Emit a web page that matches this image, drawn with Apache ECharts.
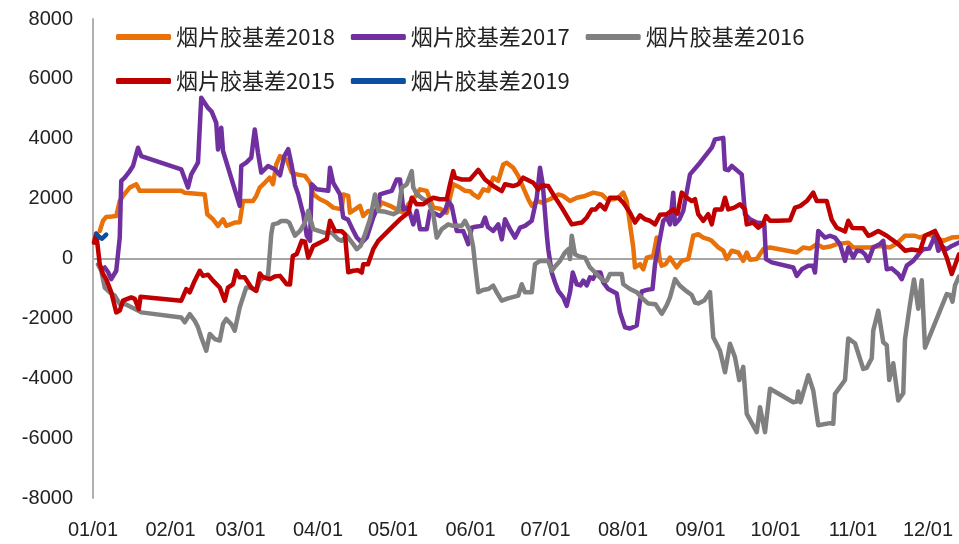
<!DOCTYPE html>
<html>
<head>
<meta charset="utf-8">
<script src="https://cdn.jsdelivr.net/npm/echarts@6/dist/echarts.min.js"></script>
<style>
html,body{margin:0;padding:0;background:#fff;}
#chart{width:959px;height:544px;}
</style>
</head>
<body>
<div id="chart"></div>
<script>
// x = day of year (0 = 01/01), y = basis value
const seriesNames = ['烟片胶基差2018','烟片胶基差2017','烟片胶基差2016','烟片胶基差2015','烟片胶基差2019'];
const monthStarts = [0,31,59,90,120,151,181,212,243,273,304,334];
const monthLabels = ['01/01','02/01','03/01','04/01','05/01','06/01','07/01','08/01','09/01','10/01','11/01','12/01'];
const yTicks = [-8000,-6000,-4000,-2000,0,2000,4000,6000,8000];

const s2018 = [[2.7,920],[4,1260],[5.3,1390],[7.5,1400],[9.3,1420],[10.7,1920],[12,2090],[14.7,2370],[17.3,2480],[18.7,2260],[35.3,2260],[36.7,2200],[44.7,2140],[45.7,1480],[48,1310],[50,1090],[52,1310],[53.3,1090],[56.7,1200],[58.7,1210],[60,1920],[64,1920],[65.3,2090],[66.7,2370],[68.7,2530],[70.7,2700],[72,2480],[73.3,3140],[74.8,3420],[77.5,3300],[79.5,2870],[81.5,2810],[84.8,2760],[86.8,2530],[88.1,2140],[90.8,1980],[93.5,1870],[96.1,1700],[99.5,1640],[100.1,2140],[102.1,2090],[102.8,1530],[104.8,1640],[106.8,1760],[108.1,1420],[110.1,1590],[113.5,1590],[115.5,1870],[118.8,1760],[122.1,1610],[124.1,1530],[126.1,1810],[128.1,1980],[130.8,2310],[133.5,2260],[136.1,1700],[138.8,1660],[141.5,1530],[142.8,2030],[144.1,2480],[146.8,2370],[148.8,2260],[150.8,2250],[152.1,2140],[154.1,2030],[156.1,2310],[158.1,2260],[160.1,2700],[162.1,2590],[164.1,3140],[165.5,3200],[168.1,3030],[170.1,2760],[172.1,2370],[174.1,1980],[175.5,1760],[177.5,1920],[179.5,1870],[182.8,1980],[186.1,2140],[188,2090],[190.8,1920],[193.5,2030],[196.8,2090],[200.1,2200],[203.5,2140],[205.5,1980],[208.1,1980],[210.1,2030],[212.1,2200],[213.5,1920],[214.8,1140],[216.1,370],[216.8,-300],[218.8,-190],[220.1,-360],[221.5,30],[224.1,90],[225.5,700],[226.8,-80],[227.5,-240],[229,-190],[230.8,30],[232.1,-130],[233.5,-300],[235.5,-80],[238.1,-20],[240.1,760],[242.1,810],[244.1,700],[246.1,650],[247.5,590],[250.1,370],[252.1,260],[253.5,-20],[255.5,260],[258.1,200],[260.1,-80],[261.5,200],[262.8,-40],[265.5,-20],[268.1,310],[270.8,370],[281.5,200],[284.1,370],[286.8,330],[289.5,480],[292.1,360],[294.8,400],[297.5,480],[302.1,530],[304,370],[310.8,370],[314.8,420],[318.8,370],[321.5,500],[324.8,760],[328.8,760],[330.8,700],[334.1,810],[336.8,700],[340.1,590],[343.5,700],[346.4,720]];

const s2017 = [[4.7,-300],[6,-450],[7.3,-690],[9.3,-410],[10.7,700],[11.3,2590],[12.7,2700],[14.7,2920],[16,3090],[18,3700],[19.3,3420],[35.3,2980],[38,2370],[39.3,2810],[42,3200],[43.3,5370],[46,5030],[47.5,4900],[49.3,4530],[50,3640],[51.3,4370],[52,3590],[58.7,1760],[59.3,3090],[61.3,3200],[63.3,3370],[64.7,4310],[66,3530],[67.3,2870],[70,3090],[72.7,2980],[74.8,2780],[76.5,3420],[78.1,3650],[79.5,3100],[80.8,2450],[82.1,2140],[84.1,1480],[85.5,760],[86.8,590],[87.5,2480],[89.5,2310],[94.1,2260],[94.8,3030],[96.1,2530],[98.8,2140],[100.1,1370],[102,1300],[103.5,1030],[105.5,700],[107.5,530],[109.5,700],[110.8,1030],[112.1,1370],[114.1,1760],[114.8,2140],[117,2200],[119.5,2260],[121.5,2640],[122.8,2640],[124.1,1640],[126.1,1700],[128.1,1140],[129.5,1590],[130.8,980],[133.5,980],[134.8,1590],[136.8,1500],[138.8,1420],[140.8,1590],[142.1,1920],[143.5,1750],[145.5,920],[148.1,920],[150.1,480],[151.5,1030],[153,1060],[155.5,1090],[156.8,1370],[158,1050],[160.1,920],[162.1,1140],[163.5,640],[164.8,1310],[166.8,980],[168.8,700],[170.8,1030],[172.8,1090],[175.5,1260],[177.5,2030],[178.8,3030],[179.9,2480],[181.5,810],[182.1,310],[183.5,-470],[184.8,-800],[186.1,-1080],[188.1,-1300],[189.5,-1580],[190.8,-1130],[191.9,-470],[193.5,-860],[195,-900],[196.1,-740],[197.5,-900],[198.8,-630],[200,-680],[201.5,-470],[203,-470],[204.1,-800],[206.1,-1020],[209.5,-1170],[210.8,-1800],[212.8,-2300],[214.8,-2340],[217.5,-2240],[218.8,-1410],[219.5,-1100],[222,-1040],[223.8,-1020],[224.8,-190],[226.1,370],[228.1,1260],[229.5,1370],[230.8,1140],[232.1,2200],[232.8,1140],[234.5,1300],[236.1,1590],[238.8,2810],[242.8,3200],[247.5,3700],[248.8,3980],[252.1,4030],[252.8,2980],[254.1,2950],[255.5,3090],[259.5,2810],[260.8,1480],[262.8,1310],[265.5,1200],[268.5,1170],[269.2,-20],[271.5,-130],[280.1,-300],[281.5,-580],[283.5,-360],[286.1,-240],[288,-240],[288.8,-470],[290.1,920],[292.8,700],[294.8,760],[296.8,700],[298.8,480],[300.8,-80],[302.1,370],[304.1,30],[305.5,260],[307.5,240],[308.8,140],[310.1,-80],[312.1,370],[314.8,480],[316.1,590],[317.5,-360],[319.5,-330],[322.1,-520],[323.5,-690],[325.5,-240],[328.1,-80],[330.8,200],[332.1,310],[334.5,330],[336.8,760],[338.1,260],[339.5,400],[341.5,310],[343.5,420],[346.4,530]];

const s2016 = [[2,-200],[3.3,-410],[4.7,-970],[6.7,-1130],[8.7,-1240],[10.7,-1520],[13,-1530],[18,-1740],[19.3,-1800],[35.3,-1970],[36.7,-2130],[38.7,-1860],[40.7,-2080],[42,-2300],[43.3,-2630],[45.3,-3080],[46.7,-2520],[48.7,-2690],[50.7,-2740],[52,-2190],[53.3,-2020],[55.3,-2190],[56.7,-2410],[58.7,-1630],[60,-1300],[61.3,-970],[63.3,-970],[65.3,-1080],[66.7,-740],[68,-650],[70,-580],[71.3,810],[72,1140],[74,1180],[75.3,1255],[77.5,1250],[78.5,1200],[80.8,760],[82.8,920],[84.8,1200],[86.1,1590],[88.1,980],[92.1,870],[95.5,860],[98.1,640],[99.5,590],[101.5,760],[104.1,480],[105.5,310],[107,420],[108.8,810],[110.8,1310],[112.8,2140],[114.1,1590],[117,1560],[120.1,1480],[122,1560],[123.5,2370],[125.5,2480],[127.5,2920],[128.1,2370],[129.5,2150],[132.1,1980],[134.1,1920],[136.1,1480],[137.5,700],[139.5,980],[142.1,1140],[144,1090],[147.5,1090],[148.8,1260],[150.8,920],[152.1,370],[152.8,-190],[154.1,-1130],[156,-1050],[158.1,-1020],[160.1,-910],[161.5,-1130],[163.5,-1410],[166,-1330],[170.1,-1240],[171.5,-860],[172.8,-1130],[175.5,-1130],[176.8,-190],[178.8,-80],[182.1,-80],[183.5,-410],[185,-250],[186.8,-80],[188.8,200],[190.1,310],[190.8,-20],[191.5,760],[192.8,140],[194.5,70],[196.8,30],[198.8,-300],[201.5,-520],[204.1,-740],[205.5,-740],[206.8,-520],[211.5,-520],[212.1,-860],[214.8,-1020],[217.5,-1130],[220.1,-1360],[222.1,-1500],[225,-1530],[227.5,-1850],[229.5,-1560],[230.8,-1300],[232.8,-690],[234.8,-910],[237.5,-1100],[239.5,-1220],[240.8,-1470],[242.1,-1500],[244.5,-1400],[246.8,-1120],[248.1,-2630],[250.8,-3080],[252.8,-3800],[253.5,-3780],[254.8,-2850],[256.8,-3300],[258.5,-4060],[260.1,-3620],[261.5,-5190],[265.5,-5800],[266.8,-4970],[268.8,-5800],[270.8,-4350],[280.1,-4800],[281.5,-4780],[282.1,-4440],[283,-4800],[286.1,-3900],[288.1,-4410],[290.1,-5570],[294.8,-5500],[296.1,-5520],[296.8,-4520],[300.8,-4060],[302.1,-2670],[304.8,-2830],[308.1,-3690],[309.5,-3650],[311.5,-3330],[312.1,-2410],[314.1,-1740],[316.1,-2800],[317.5,-2900],[318.5,-4060],[320.1,-3500],[322.1,-4740],[324.1,-4500],[324.8,-2700],[326.8,-1530],[328.4,-700],[330.1,-1680],[331.5,-730],[332.8,-2980],[341.5,-1190],[342.8,-1220],[343.8,-1440],[344.8,-900],[346.4,-600]];

const s2015 = [[0.4,530],[1.3,830],[2.7,-190],[4,-520],[5.3,-690],[7.3,-1130],[9.3,-1800],[10.7,-1740],[12,-1410],[15.3,-1300],[16.7,-1350],[18.3,-1690],[19,-1280],[35.3,-1410],[37.3,-1020],[38.7,-1130],[40.7,-740],[42.7,-410],[44,-580],[46,-540],[48,-740],[50.7,-970],[52.7,-1410],[54,-970],[56,-860],[57.3,-410],[58.7,-630],[60.7,-630],[63.3,-970],[65.3,-1080],[66.7,-500],[68,-630],[70.7,-690],[72.7,-600],[74.8,-580],[77.5,-860],[78.8,-870],[79.9,80],[81.5,150],[83.5,590],[84.8,560],[86.1,30],[88.1,420],[90.8,530],[93.5,650],[94.8,1260],[96.8,920],[99.5,910],[100.8,810],[102.1,-460],[104.1,-410],[106,-390],[107.5,-470],[108.1,-190],[110,-190],[112.1,310],[114.1,590],[118.8,980],[122.8,1310],[126.1,1530],[127.5,2030],[129.5,1810],[132.1,1810],[133.5,1900],[136.1,2030],[138.8,1980],[141.5,1980],[142.8,2480],[144.1,2920],[144.8,2700],[147.5,2640],[150.8,2640],[154.1,2960],[156.8,2640],[160.1,2420],[163.5,2250],[164.8,2480],[168,2420],[170.1,2480],[172.1,2700],[174.5,2600],[176.1,2530],[178.1,2310],[179.5,2440],[182.1,2420],[184.1,2140],[187.5,1700],[191.5,1140],[195.5,1200],[197.5,1370],[199.5,1640],[201,1640],[202.8,1810],[204.8,1640],[206.8,2030],[210.1,2030],[212.1,1870],[214.8,1530],[216.8,1200],[218.8,1440],[220.8,1310],[222.5,1270],[224.8,1140],[226.8,1460],[229.5,1480],[232.1,1640],[233.8,1500],[235.5,2200],[237.5,2030],[239.5,1920],[240.8,1980],[242.1,1480],[244.1,1260],[246.1,1480],[247.5,1140],[248.8,1640],[251.5,1640],[252.8,2030],[254.1,1640],[256.5,1700],[258.8,1810],[260.8,1640],[261.5,1140],[264.1,1200],[266.1,1030],[268,1150],[269.2,1420],[270.8,1260],[274,1260],[278.8,1280],[280.8,1700],[282.8,1750],[285.5,1920],[288.1,2200],[289.5,1920],[293.5,1920],[295.5,1290],[297.5,1030],[300.8,900],[302.1,1260],[303.7,1020],[308.1,1010],[310.1,760],[311.5,800],[314.1,920],[317.5,760],[322.1,480],[324.8,260],[327.5,300],[330.8,260],[332.8,760],[336.8,920],[338.8,590],[341.5,30],[343.5,-520],[346.4,140]];

const s2019 = [[1.3,820],[2.5,720],[3.5,660],[4.5,730],[5.3,800]];

const seriesData = [s2018, s2017, s2016, s2015, s2019];
const colors = ['#E8710A','#7030A0','#808080','#C00000','#0B4EA2'];

const chart = echarts.init(document.getElementById('chart'), null, {renderer:'canvas'});
const labelFont = 'Liberation Sans, Arial, sans-serif';
const legendCommon = {
  left: 111,
  orient: 'horizontal',
  icon: 'roundRect',
  itemWidth: 55,
  itemHeight: 6,
  itemGap: 16,
  textStyle: {fontSize: 22, color: '#222', fontFamily: 'Noto Sans CJK SC'}
};
// only the zero line is visible among the split lines
const splitColors = yTicks.map(function (t) { return t === 0 ? '#A6A6A6' : 'rgba(0,0,0,0)'; });
chart.setOption({
  animation: false,
  backgroundColor: '#fff',
  color: colors,
  grid: {left: 93, right: 0, top: 19, bottom: 46, containLabel: false},
  legend: [
    Object.assign({top: 21, data: seriesNames.slice(0,3)}, legendCommon),
    Object.assign({top: 65, data: seriesNames.slice(3)}, legendCommon)
  ],
  xAxis: {
    type: 'value', min: 0, max: 346.4,
    axisLine: {show: false}, axisTick: {show: false}, splitLine: {show: false},
    axisLabel: {
      customValues: monthStarts,
      formatter: function (v) { const i = monthStarts.indexOf(Math.round(v)); return i >= 0 ? monthLabels[i] : ''; },
      fontSize: 20, color: '#222', fontFamily: labelFont, margin: 22, showMinLabel: true, showMaxLabel: true
    }
  },
  yAxis: {
    type: 'value', min: yTicks[0], max: yTicks[yTicks.length-1], interval: 2000,
    axisLine: {show: true, onZero: false, lineStyle: {color: '#B0B0B0', width: 2}},
    axisTick: {show: false},
    splitLine: {show: true, showMinLine: true, showMaxLine: true, lineStyle: {color: splitColors, width: 2}},
    axisLabel: {fontSize: 20, color: '#222', fontFamily: labelFont, margin: 20,
      formatter: function (v) { return String(v); }}
  },
  series: seriesNames.map(function (name, i) {
    return {
      name: name, type: 'line', data: seriesData[i],
      showSymbol: false, symbol: 'none',
      lineStyle: {width: 4.5, color: colors[i], cap: 'round', join: 'round'},
      itemStyle: {color: colors[i]},
      z: 2 + i
    };
  })
});
</script>
</body>
</html>
